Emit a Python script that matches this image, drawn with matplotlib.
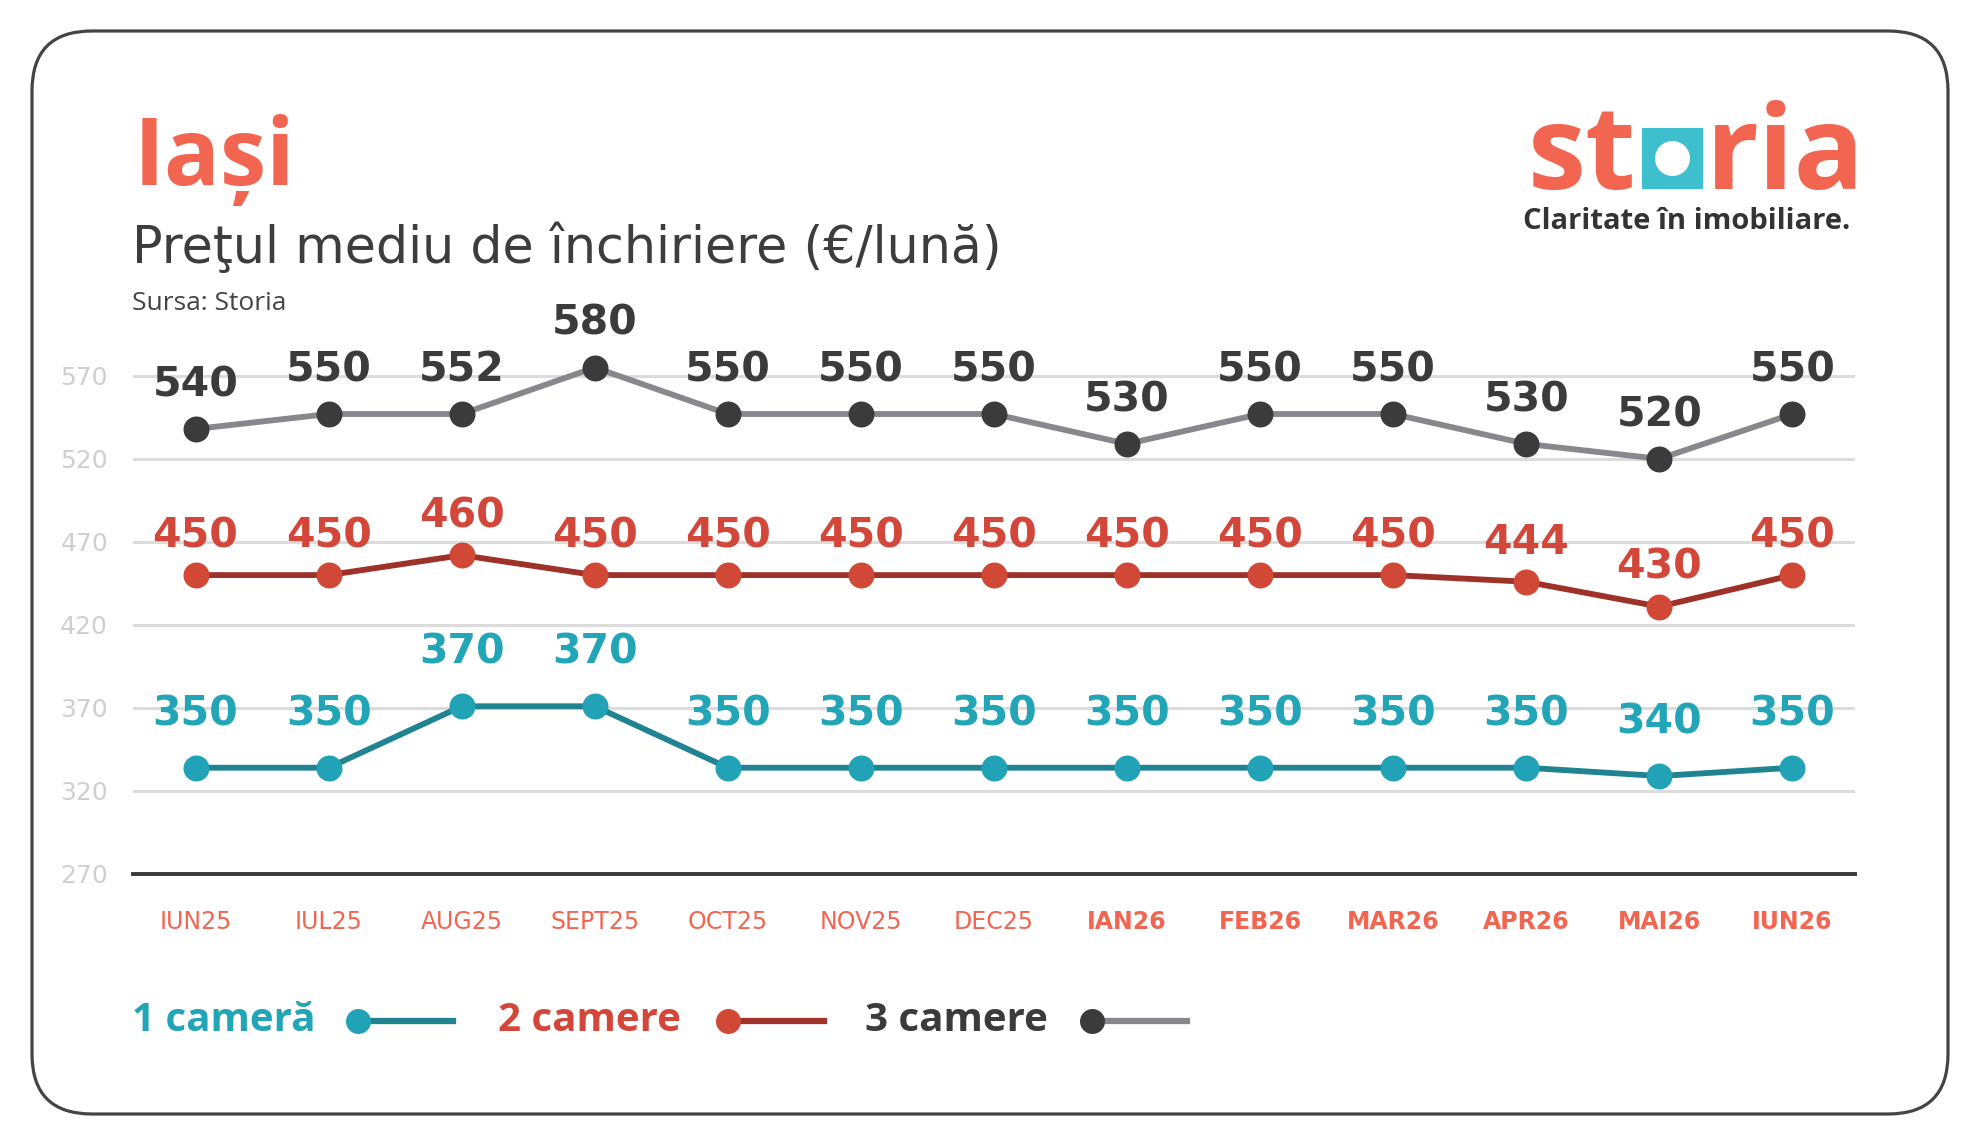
import matplotlib
matplotlib.use('Agg')
import matplotlib.pyplot as plt
from matplotlib.patches import FancyBboxPatch, Rectangle, Circle

plt.rcParams['font.family'] = ['Open Sans', 'DejaVu Sans']
LAT = ['DejaVu Sans']   # pentru cifre si texte late

# date
luni = ['IUN25', 'IUL25', 'AUG25', 'SEPT25', 'OCT25', 'NOV25', 'DEC25',
        'IAN26', 'FEB26', 'MAR26', 'APR26', 'MAI26', 'IUN26']

# valorile scrise pe grafic
et_1 = [350, 350, 370, 370, 350, 350, 350, 350, 350, 350, 350, 340, 350]
et_2 = [450, 450, 460, 450, 450, 450, 450, 450, 450, 450, 444, 430, 450]
et_3 = [540, 550, 552, 580, 550, 550, 550, 530, 550, 550, 530, 520, 550]

# unde sunt desenate punctele, citite pe axa
poz_1 = [334, 334, 371, 371, 334, 334, 334, 334, 334, 334, 334, 329, 334]
poz_2 = [450, 450, 462, 450, 450, 450, 450, 450, 450, 450, 446, 431, 450]
poz_3 = [538, 547, 547, 575, 547, 547, 547, 529, 547, 547, 529, 520, 547]

y_ticks = [270, 320, 370, 420, 470, 520, 570]

coral = '#f26550'
gri_txt = '#3b3b3b'

fig = plt.figure(figsize=(19.79, 11.46), dpi=100)

# fundal in pixeli
bg = fig.add_axes([0, 0, 1, 1], zorder=0)
bg.set_xlim(0, 1979)
bg.set_ylim(1146, 0)
bg.axis('off')

card = FancyBboxPatch((32, 31), 1916, 1083, boxstyle='round,pad=0,rounding_size=60',
                      fc='white', ec='#444444', lw=2.3)
bg.add_patch(card)

bg.text(134, 185, 'Iași', color=coral, fontsize=67, fontweight='bold', va='baseline')
bg.text(132, 263, 'Preţul mediu de închiriere (€/lună)', color='#3d3d3d', fontsize=36.5,
        family=LAT, va='baseline')
bg.text(132, 310, 'Sursa: Storia', color='#444444', fontsize=19, va='baseline')

# logo storia
bg.text(1636, 189, 'st', color=coral, fontsize=84, fontweight='bold', ha='right', va='baseline')
bg.add_patch(Rectangle((1642, 128), 61, 61, fc='#3dbfce', ec='none'))
bg.add_patch(Circle((1672.5, 158.5), 17.5, fc='white', ec='none'))
bg.text(1706, 189, 'ria', color=coral, fontsize=84, fontweight='bold', ha='left', va='baseline')
bg.text(1850, 229, 'Claritate în imobiliare.', color='#333333', fontsize=21,
        fontweight='bold', ha='right', va='baseline')

# grafic
ax = fig.add_axes([0.06721, 0.23735, 0.87014, 0.47818], zorder=1)
ax.patch.set_alpha(0)

serii = [
    (poz_1, et_1, '#1f8392', '#22a2b6', '#23a5b8', 30.7),
    (poz_2, et_2, '#9e3128', '#d14836', '#d2473a', 20),
    (poz_3, et_3, '#8a868d', '#3b3b3b', gri_txt, 23.5),
]
x = list(range(len(luni)))
for poz, et, c_linie, c_pct, c_txt, dy in serii:
    ax.plot(x, poz, color=c_linie, lw=4.2, zorder=3, solid_capstyle='round')
    ax.plot(x, poz, 'o', color=c_pct, ms=18.7, mec='none', zorder=4)
    for xi, yi, v in zip(x, poz, et):
        ax.annotate(str(v), (xi, yi), xytext=(0, dy), textcoords='offset points',
                    ha='center', va='baseline', fontsize=29.5, fontweight='bold',
                    family=LAT, color=c_txt, annotation_clip=False)

ax.set_xlim(-0.47, 12.47)
ax.set_ylim(270, 600)
ax.set_yticks(y_ticks)
ax.set_xticks(x)
ax.set_xticklabels(luni)
ax.grid(axis='y', color='#dcdcdc', lw=2.2)
ax.set_axisbelow(True)
for s in ['top', 'right', 'left']:
    ax.spines[s].set_visible(False)
ax.spines['bottom'].set_color('#3a3a3a')
ax.spines['bottom'].set_linewidth(2.8)
ax.tick_params(axis='y', length=0, pad=18, labelsize=18, labelcolor='#cfcfcf')
ax.tick_params(axis='x', length=0, pad=26, labelsize=17, labelcolor=coral)
for t in ax.get_yticklabels():
    t.set_family(LAT)
for i, t in enumerate(ax.get_xticklabels()):
    t.set_family(LAT)
    t.set_fontweight('bold' if i >= 7 else 'normal')

# legenda
leg = [
    ('1 cameră', 132, 358, 370, 453, '#23a5b8', '#22a2b6', '#1f8392'),
    ('2 camere', 498, 728, 740, 824, '#d2473a', '#d14836', '#9e3128'),
    ('3 camere', 865, 1092, 1104, 1187, gri_txt, '#3b3b3b', '#8a868d'),
]
for txt, tx, mx, l0, l1, c_txt, c_pct, c_linie in leg:
    bg.text(tx, 1031, txt, color=c_txt, fontsize=29, fontweight='bold', va='baseline')
    bg.plot([l0, l1], [1021, 1021], color=c_linie, lw=4.5)
    bg.plot([mx], [1021], 'o', color=c_pct, ms=18, mec='none')

fig.savefig('out.png', dpi=100)
